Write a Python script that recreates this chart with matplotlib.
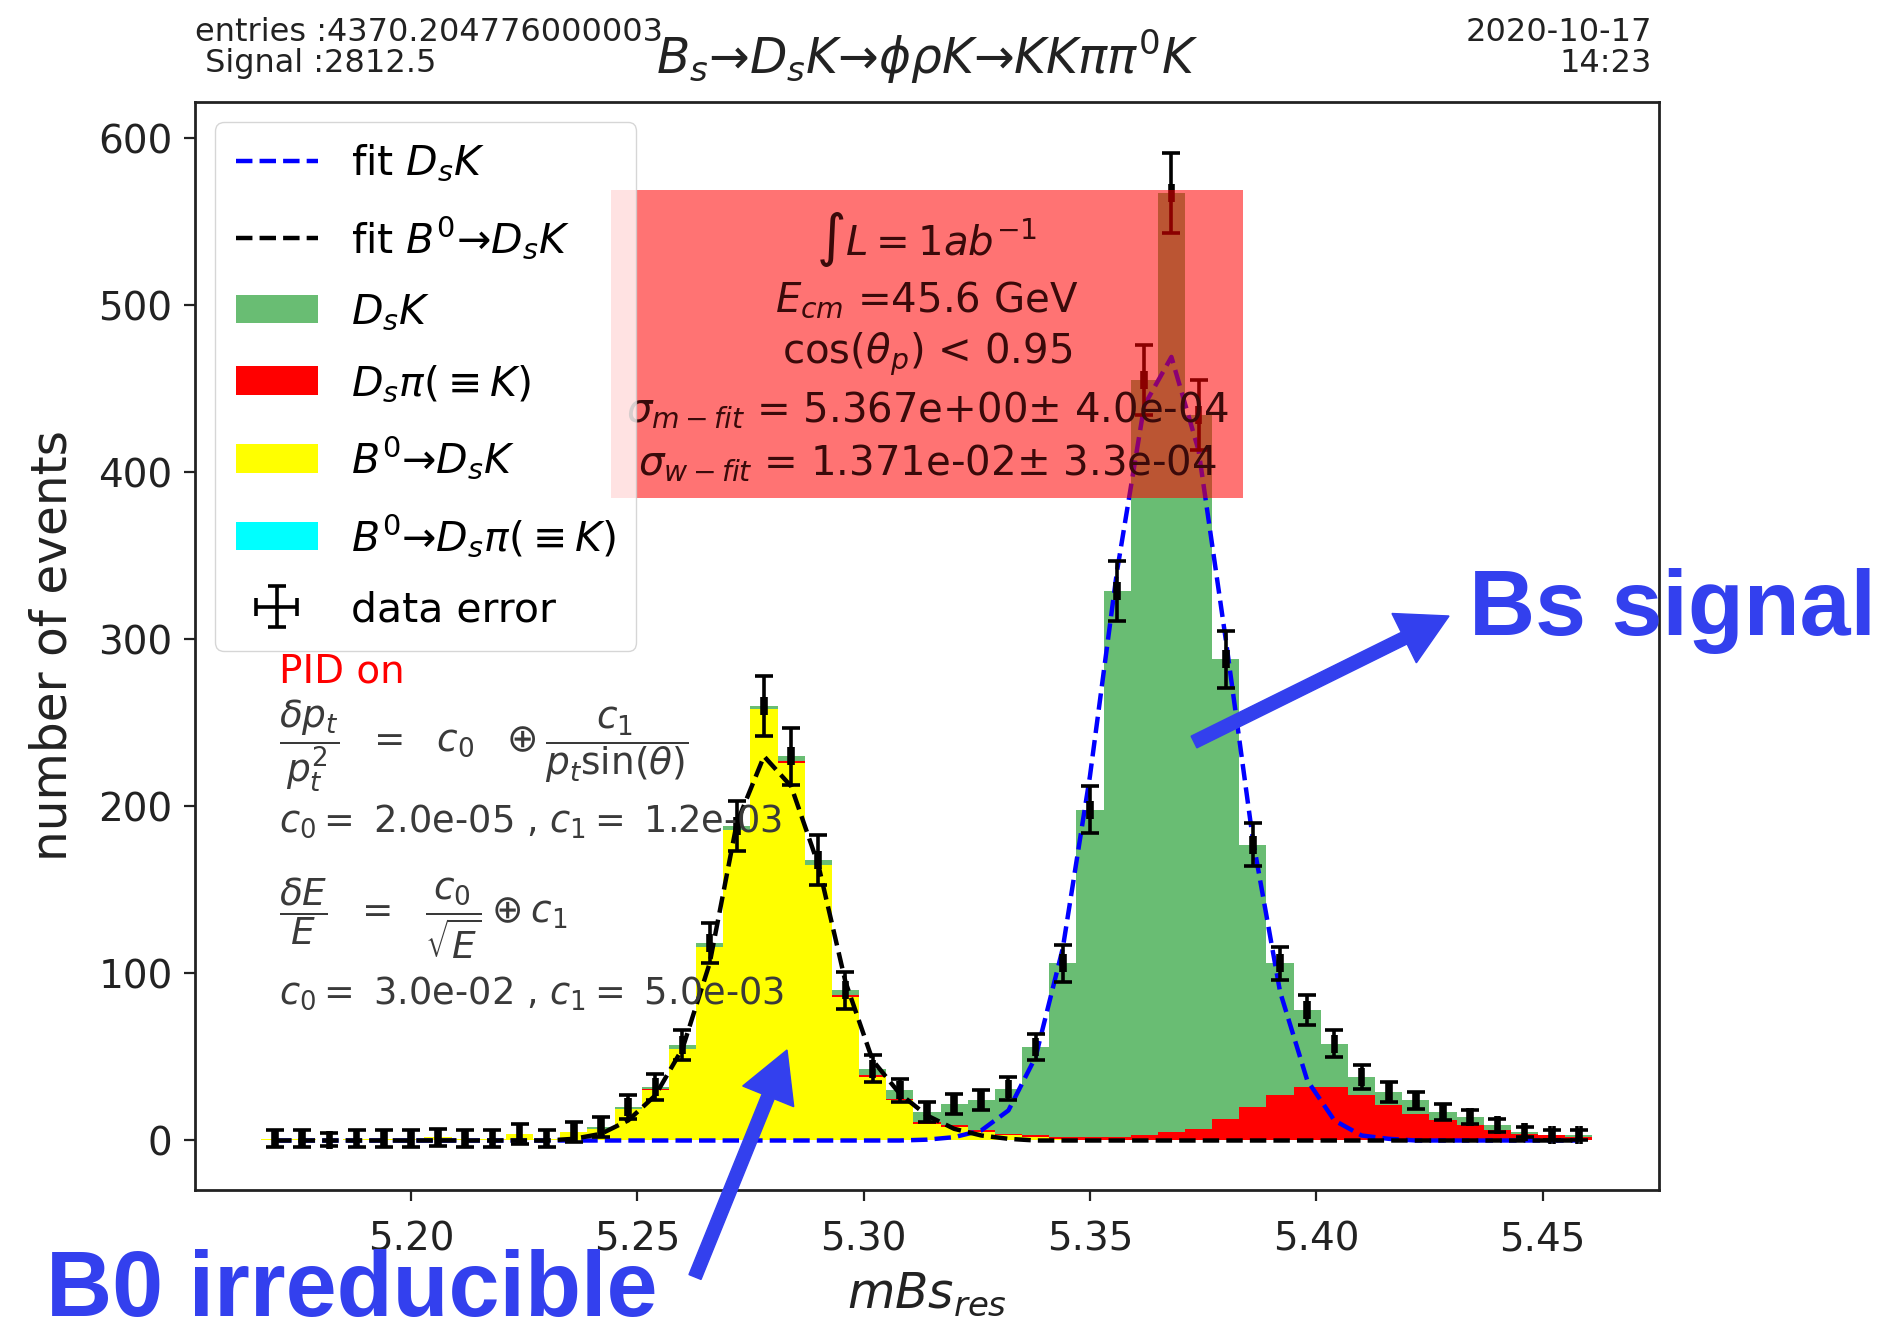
import matplotlib
matplotlib.use('Agg')
import matplotlib.pyplot as plt
from matplotlib.patches import FancyArrow
import numpy as np

# binning of the reconstructed Bs mass (49 bins of 6 MeV)
bin_edges = np.linspace(5.167, 5.461, 50)
centers = 0.5 * (bin_edges[:-1] + bin_edges[1:])

# per-bin yields of each component (stack order: bottom to top)
b0_dsk = [1, 1, 0.5, 1, 1, 1, 2, 1, 1, 4,
          1, 5, 7, 19, 30, 55, 116, 186, 258, 226,
          165, 86, 38, 24, 10, 8, 5, 3, 2, 1,
          0, 0, 0, 0, 0, 0, 0, 0, 0, 0,
          0, 0, 0, 0, 0, 0, 0, 0, 0]
b0_dspi = [0] * 49
ds_pi = [0, 0, 0, 0, 0, 0, 0, 0, 0, 0,
         0, 0, 0, 0, 1, 0, 0, 0, 0, 1,
         0, 1, 1, 1, 1, 1, 1, 1, 1, 1,
         2, 2, 3, 5, 7, 13, 20, 27, 32, 32,
         27, 21, 16, 12, 9, 6, 4, 3, 2]
ds_k = [0, 0, 0, 0, 0, 0, 0, 0, 0, 0,
        0, 0, 1, 1, 1, 2, 2, 2, 2, 3,
        3, 3, 4, 5, 6, 13, 18, 27, 53, 104,
        196, 327, 452, 562, 427, 275, 157, 79, 46, 26,
        11, 8, 8, 5, 5, 3, 1, 0, 1]

# uncertainty on the summed yield
data_err = [5, 5, 4, 5, 5, 5, 5, 5, 5, 6,
            5, 6, 6, 7, 8, 9, 12, 15, 18, 17,
            15, 11, 8, 7, 6, 6, 6, 7, 8, 11,
            14, 18, 21, 24, 21, 17, 13, 10, 9, 8,
            7, 6, 5, 5, 4, 4, 3, 3, 3]

# fitted shapes evaluated at the bin centres
fit_dsk = [0, 0, 0, 0, 0, 0, 0, 0, 0, 0,
           0, 0, 0, 0, 0, 0, 0, 0, 0, 0,
           0, 0, 0, 0, 0.5, 2, 6, 18, 50, 115,
           218, 341, 440, 469, 413, 300, 180, 89, 36, 12,
           3, 1, 0, 0, 0, 0, 0, 0, 0]
fit_b0 = [0, 0, 0, 0, 0, 0, 0, 0, 0, 0,
          0, 1, 4, 12, 27, 55, 106, 190, 230, 212,
          165, 95, 48, 28, 15, 7, 3, 1, 0, 0,
          0, 0, 0, 0, 0, 0, 0, 0, 0, 0,
          0, 0, 0, 0, 0, 0, 0, 0, 0]

data = np.array(b0_dsk) + np.array(b0_dspi) + np.array(ds_pi) + np.array(ds_k)

fig = plt.figure(figsize=(18.85, 13.26), dpi=100)
ax = fig.add_axes([0.1034, 0.1026, 0.7767, 0.8205])

green = '#69bd73'
_, _, patches = ax.hist([centers] * 4, bins=bin_edges,
                        weights=[b0_dsk, b0_dspi, ds_pi, ds_k],
                        stacked=True, histtype='stepfilled', linewidth=0,
                        color=['yellow', 'cyan', 'red', green], zorder=1)

l_bs, = ax.plot(centers, fit_dsk, '--', color='blue', lw=3.2, zorder=2)
l_b0, = ax.plot(centers, fit_b0, '--', color='black', lw=3.2, zorder=2)

eb = ax.errorbar(centers, data, yerr=data_err, xerr=0.0004, fmt='none',
                 ecolor='black', elinewidth=2.6, capsize=6.5, capthick=2.6,
                 zorder=3)

ax.set_xlim(5.1523, 5.4757)
ax.set_ylim(-29.6, 621.6)
ax.set_xticks([5.20, 5.25, 5.30, 5.35, 5.40, 5.45])
ax.set_yticks([0, 100, 200, 300, 400, 500, 600])
ax.tick_params(labelsize=28, length=8, width=1.6, colors='#222222')
ax.tick_params(axis='x', pad=14)
ax.tick_params(axis='y', pad=8)
for sp in ax.spines.values():
    sp.set_linewidth(2)
    sp.set_color('#222222')

ax.set_xlabel(r'$mBs_{res}$', fontsize=35, color='#222222', labelpad=8)
ax.set_ylabel('number of events', fontsize=35, color='#222222', labelpad=16)
ax.set_title(r'$B_s$→$D_sK$→$\phi\rho K$→$KK\pi\pi^0K$', fontsize=35,
             pad=20, color='#222222')

ax.text(0.0, 1.021, 'entries :4370.204776000003\n Signal :2812.5',
        transform=ax.transAxes, ha='left', va='bottom', fontsize=23,
        color='#222222', linespacing=1.0)
ax.text(0.995, 1.021, '2020-10-17\n14:23', transform=ax.transAxes,
        ha='right', va='bottom', multialignment='right', fontsize=23,
        color='#222222', linespacing=1.0)

# luminosity / resolution box
box_txt = (r'$\int L = 1ab^{-1}$' + '\n' +
           r'$E_{cm}$ =45.6 GeV' + '\n' +
           r'cos($\theta_p$) < 0.95' + '\n' +
           r'$\sigma_{m-fit}$ = 5.367e+00$\pm$ 4.0e-04' + '\n' +
           r'$\sigma_{w-fit}$ = 1.371e-02$\pm$ 3.3e-04')
ax.text(5.314, 475, box_txt, ha='center', va='center', fontsize=29,
        color='#3a0a0a', linespacing=1.33, zorder=4,
        bbox=dict(boxstyle='square,pad=0.36', facecolor='red', alpha=0.55,
                  edgecolor='none'))

# detector resolution notes
ax.text(5.1708, 281, 'PID on', color='red', fontsize=28, va='center', zorder=4)
note_c = '#3a3a3a'
ax.text(5.1708, 236,
        r'$\dfrac{\delta p_t}{p_t^2}\ \ =\ \ c_0\ \ \oplus\dfrac{c_1}{p_t\sin(\theta)}$',
        fontsize=27, color=note_c, va='center')
ax.text(5.1708, 191, r'$c_0 =$ 2.0e-05 , $c_1 =$ 1.2e-03',
        fontsize=26.5, color=note_c, va='center')
ax.text(5.1708, 133,
        r'$\dfrac{\delta E}{E}\ \ =\ \ \dfrac{c_0}{\sqrt{E}}\oplus c_1$',
        fontsize=27, color=note_c, va='center')
ax.text(5.1708, 88, r'$c_0 =$ 3.0e-02 , $c_1 =$ 5.0e-03',
        fontsize=26.5, color=note_c, va='center')

handles = [l_bs, l_b0, patches[3][0], patches[2][0], patches[0][0],
           patches[1][0], eb]
labels = ['fit $D_sK$', 'fit $B^0$→$D_sK$', '$D_sK$', r'$D_s\pi(\equiv K)$',
          '$B^0$→$D_sK$', r'$B^0$→$D_s\pi(\equiv K)$', 'data error']
leg = ax.legend(handles, labels, loc='upper left', fontsize=29.5,
                labelspacing=0.75, handlelength=2.0, borderpad=0.5)
leg.set_zorder(5)

# slide annotations
ann_c = '#3340ee'
fig.text(1469 / 1885, 1 - 635 / 1326, 'Bs signal', fontsize=66,
         fontweight='bold', family='Liberation Sans', color=ann_c,
         ha='left', va='baseline')
fig.text(46 / 1885, 1 - 1316 / 1326, 'B0 irreducible', fontsize=66,
         fontweight='bold', family='Liberation Sans', color=ann_c,
         ha='left', va='baseline')


def slide_arrow(x0, y0, x1, y1):
    # coordinates in pixels from the top-left corner
    a = FancyArrow(x0 / 100, (1326 - y0) / 100, (x1 - x0) / 100, (y0 - y1) / 100,
                   width=0.13, head_width=0.55, head_length=0.5,
                   length_includes_head=True, color=ann_c,
                   transform=fig.dpi_scale_trans)
    fig.add_artist(a)


slide_arrow(1194, 742, 1449, 616)
slide_arrow(695, 1277, 787, 1050)

fig.savefig('out.png', dpi=100)
